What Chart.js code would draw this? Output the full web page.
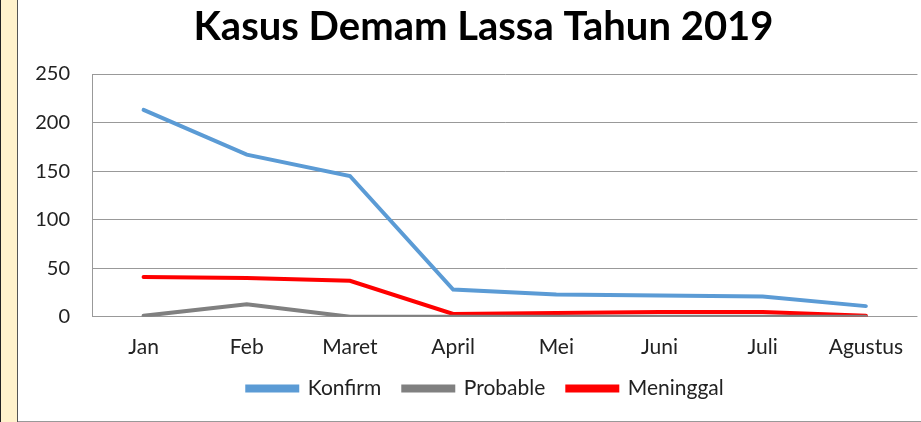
<!DOCTYPE html>
<html>
<head>
<meta charset="utf-8">
<script src="https://cdn.jsdelivr.net/npm/chart.js@4/dist/chart.umd.min.js"></script>
<style>
  body { margin: 0; background: #fff; }
  #strip { position: absolute; left: 0; top: 0; width: 16px; height: 422px; background: #fff2cc;
           border-left: 1px solid #222; border-right: 1px solid #555; }
  #wrap { position: absolute; left: 18px; top: 0; width: 903px; height: 421px; border-bottom: 1px solid #999; }
</style>
</head>
<body>
<div id="strip"></div>
<div id="wrap"><canvas id="chart" width="903" height="421"></canvas></div>
<script>
// Kasus Demam Lassa 2019
const months = ["Jan", "Feb", "Maret", "April", "Mei", "Juni", "Juli", "Agustus"];
const konfirm = [213, 167, 145, 28, 23, 22, 21, 11];
const probable = [1, 13, 0, 0, 0, 0, 0, 0];
const meninggal = [41, 40, 37, 3, 4, 5, 5, 1];
const yTicks = [0, 50, 100, 150, 200, 250];

const FONT = "Lato, 'Open Sans', sans-serif";
const LEGEND_TRIM = 22;

function line(label, data, color) {
    return {
        label: label,
        data: data,
        borderColor: color,
        backgroundColor: color,
        borderWidth: 4,
        pointRadius: 0,
        tension: 0,
        borderCapStyle: "round"
    };
}

// nudge title/legend like the original; legend takes less room so the plot reaches lower
const tweakBoxes = {
    id: "tweakBoxes",
    beforeLayout(chart) {
        const lg = chart.legend;
        if (lg && !lg._patched) {
            const fit = lg.fit;
            lg.fit = function () {
                fit.call(this);
                this.height -= LEGEND_TRIM;
            };
            lg._patched = true;
        }
    },
    afterLayout(chart) {
        chart.titleBlock.left += 14;
        chart.titleBlock.right += 14;
        chart.legend.top -= LEGEND_TRIM;
        chart.legend.left += 16;
        chart.legend.right += 16;
    }
};

new Chart(document.getElementById("chart"), {
    type: "line",
    data: {
        labels: months,
        datasets: [
            line("Konfirm", konfirm, "#5b9bd5"),
            line("Probable", probable, "#808080"),
            line("Meninggal", meninggal, "#ff0000")
        ]
    },
    plugins: [tweakBoxes],
    options: {
        responsive: false,
        animation: false,
        layout: { padding: { left: 0, right: 0, top: 3, bottom: 12 } },
        plugins: {
            title: {
                display: true,
                text: "Kasus Demam Lassa Tahun 2019",
                color: "#000",
                font: { family: FONT, size: 40, weight: "bold" },
                padding: { top: 0, bottom: 23 }
            },
            legend: {
                position: "bottom",
                labels: {
                    color: "#222",
                    font: { family: FONT, size: 21 },
                    boxWidth: 50,
                    boxHeight: 4,
                    padding: 22
                }
            },
            tooltip: { enabled: false }
        },
        scales: {
            x: {
                offset: true,
                grid: { display: false, drawTicks: false },
                border: { display: false },
                ticks: { color: "#222", font: { family: FONT, size: 21 }, padding: 18 }
            },
            y: {
                min: 0,
                max: 250,
                afterFit: s => { s.width = 74; },
                afterBuildTicks: s => { s.ticks = yTicks.map(v => ({ value: v })); },
                grid: { color: "#999", lineWidth: 1, drawTicks: false },
                border: { display: true, color: "#999", width: 1 },
                ticks: { color: "#222", font: { family: FONT, size: 20 }, padding: 22 }
            }
        }
    }
});
</script>
</body>
</html>
